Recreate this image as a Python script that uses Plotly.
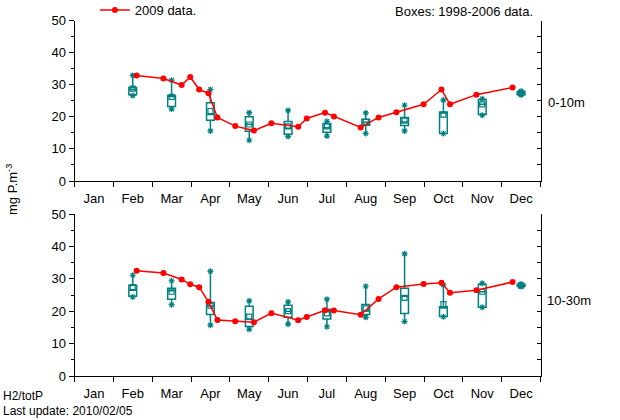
import plotly.graph_objects as go

months = ["Jan", "Feb", "Mar", "Apr", "May", "Jun", "Jul", "Aug", "Sep", "Oct", "Nov", "Dec"]

# 2009 sampling dates (in month units, Jan 1 = 0)
x2009 = [1.60, 2.29, 2.76, 2.98, 3.21, 3.45, 3.68, 4.14, 4.62, 5.07, 5.76, 5.98,
         6.45, 6.68, 7.37, 7.83, 8.29, 8.99, 9.45, 9.67, 10.35, 11.28]
top2009 = [32.9, 31.9, 29.9, 32.4, 28.5, 27.3, 19.8, 17.1, 15.7, 18.0, 16.9, 19.5,
           21.3, 20.1, 16.7, 19.8, 21.4, 23.9, 28.5, 23.9, 26.9, 29.1]
bot2009 = [32.5, 31.8, 29.8, 28.3, 27.4, 22.9, 17.3, 16.9, 16.6, 19.4, 17.2, 18.2,
           20.3, 20.2, 18.9, 23.8, 27.4, 28.4, 28.8, 25.7, 26.5, 29.0]

# 1998-2006 monthly box statistics (Feb..Dec), box centred mid-month
box_x = [1.5, 2.5, 3.5, 4.5, 5.5, 6.5, 7.5, 8.5, 9.5, 10.5, 11.5]

top_lo = [26.6, 22.4, 15.6, 12.7, 13.9, 14.0, 14.8, 15.6, 14.8, 20.5, 26.8]
top_q1 = [26.9, 23.2, 18.9, 15.5, 14.6, 15.2, 17.4, 17.3, 14.8, 20.7, 26.9]
top_med = [28.5, 26.4, 20.7, 17.7, 16.4, 16.6, 18.3, 18.4, 21.2, 23.9, 27.4]
top_q3 = [29.1, 26.6, 24.4, 20.0, 18.5, 17.9, 19.2, 19.8, 21.5, 25.4, 27.9]
top_hi = [32.9, 31.4, 28.5, 21.3, 22.0, 18.6, 21.2, 23.6, 25.2, 25.6, 28.0]
top_mean = [28.8, 26.2, 21.8, 17.6, 17.0, 17.0, 18.4, 18.8, 20.7, 23.9, 27.4]

bot_lo = [24.4, 22.0, 15.7, 14.4, 16.0, 15.2, 18.1, 16.8, 18.3, 21.2, 27.6]
bot_q1 = [24.6, 23.7, 19.0, 15.3, 18.1, 17.6, 19.0, 19.3, 18.4, 21.2, 27.6]
bot_med = [26.5, 26.3, 21.6, 17.5, 20.0, 19.8, 20.1, 24.6, 21.0, 26.0, 28.0]
bot_q3 = [28.0, 27.1, 22.7, 21.5, 21.8, 20.6, 22.1, 27.1, 21.4, 28.3, 28.3]
bot_hi = [31.1, 29.4, 32.3, 23.2, 22.9, 23.7, 27.7, 37.7, 28.1, 28.6, 28.4]
bot_mean = [27.4, 26.0, 21.7, 18.3, 20.0, 19.3, 20.9, 24.1, 22.2, 26.0, 28.0]

yticks = [0, 10, 20, 30, 40, 50]

TEAL = "#008080"
RED = "#ff0000"
FONT = "Liberation Sans, Arial, sans-serif"

fig = go.Figure()

panels = [
    ("x", "y", top2009, top_lo, top_q1, top_med, top_q3, top_hi, top_mean, True),
    ("x2", "y2", bot2009, bot_lo, bot_q1, bot_med, bot_q3, bot_hi, bot_mean, False),
]

for xa, ya, red, lo, q1, med, q3, hi, mn, leg in panels:
    fig.add_trace(go.Box(
        x=box_x, q1=q1, median=med, q3=q3, lowerfence=lo, upperfence=hi,
        width=0.2, whiskerwidth=0, fillcolor="rgba(0,0,0,0)",
        line=dict(color=TEAL, width=1.5), xaxis=xa, yaxis=ya,
        showlegend=False, hoverinfo="skip"))
    fig.add_trace(go.Scatter(
        x=box_x + box_x, y=lo + hi, mode="markers",
        marker=dict(symbol="asterisk-open", size=5, color=TEAL,
                    line=dict(color=TEAL, width=1.2)),
        xaxis=xa, yaxis=ya, showlegend=False, hoverinfo="skip"))
    fig.add_trace(go.Scatter(
        x=box_x, y=mn, mode="markers",
        marker=dict(symbol="square-open", size=5, color=TEAL,
                    line=dict(color=TEAL, width=1.2)),
        xaxis=xa, yaxis=ya, showlegend=False, hoverinfo="skip"))
    fig.add_trace(go.Scatter(
        x=x2009, y=red, mode="lines+markers", name="2009 data.",
        line=dict(color=RED, width=1.5), marker=dict(color=RED, size=6),
        xaxis=xa, yaxis=ya, showlegend=leg))

xdom = [74.5 / 620, 540.5 / 620]
ydom_top = [1 - 181 / 420, 1 - 20.5 / 420]
ydom_bot = [1 - 376 / 420, 1 - 214 / 420]

xcommon = dict(
    domain=xdom, range=[0, 12], tickvals=[i + 0.5 for i in range(12)], ticktext=months,
    ticks="outside", ticklen=5, tickcolor="rgba(0,0,0,0)", automargin=False,
    showline=True, linecolor="black", linewidth=1, showgrid=False, zeroline=False,
    minor=dict(tick0=0, dtick=1, ticks="outside", ticklen=5, tickcolor="black", tickwidth=1),
    tickfont=dict(size=13, color="black", family=FONT), fixedrange=True)

ycommon = dict(
    range=[0, 50], tickvals=yticks, ticks="outside", ticklen=5, tickcolor="black",
    showline=True, linecolor="black", linewidth=1, showgrid=False, zeroline=False,
    automargin=False,
    minor=dict(tick0=0, dtick=5, ticks="outside", ticklen=3, tickcolor="black"),
    tickfont=dict(size=13, color="black", family=FONT), fixedrange=True)

yright = dict(
    range=[0, 50], side="right", dtick=5, ticks="inside", ticklen=4, tickcolor="black",
    showticklabels=False, showline=True, linecolor="black", linewidth=1, automargin=False,
    showgrid=False, zeroline=False, fixedrange=True)

fig.update_layout(
    width=620, height=420,
    margin=dict(l=0, r=0, t=0, b=0, pad=0, autoexpand=False),
    paper_bgcolor="white", plot_bgcolor="white",
    font=dict(family=FONT, size=13, color="black"),
    xaxis=dict(anchor="y", **xcommon),
    xaxis2=dict(anchor="y2", **xcommon),
    yaxis=dict(domain=ydom_top, anchor="x", **ycommon),
    yaxis2=dict(domain=ydom_bot, anchor="x2", **ycommon),
    yaxis3=dict(overlaying="y", anchor="x", **yright),
    yaxis4=dict(overlaying="y2", anchor="x2", **yright),
    showlegend=True,
    legend=dict(x=0.153, y=1.012, xanchor="left", yanchor="top", bgcolor="rgba(0,0,0,0)",
                font=dict(size=13, family=FONT), itemwidth=30),
)

# dummy traces to activate the right-side axes
fig.add_trace(go.Scatter(x=[None], y=[None], xaxis="x", yaxis="y3", showlegend=False))
fig.add_trace(go.Scatter(x=[None], y=[None], xaxis="x2", yaxis="y4", showlegend=False))

annots = [
    dict(text="Boxes: 1998-2006 data.", x=535 / 620, y=1 - 11 / 420, xanchor="right", yanchor="middle"),
    dict(text="0-10m", x=546 / 620, y=1 - 102 / 420, xanchor="left", yanchor="middle"),
    dict(text="10-30m", x=545 / 620, y=1 - 300 / 420, xanchor="left", yanchor="middle"),
    dict(text="mg P.m<sup>-3</sup>", x=12 / 620, y=1 - 190 / 420, xanchor="center", yanchor="middle",
         textangle=-90),
    dict(text="H2/totP", x=1 / 620, y=1 - 396 / 420, xanchor="left", yanchor="middle", font=dict(size=12)),
    dict(text="Last update: 2010/02/05", x=1 / 620, y=1 - 411 / 420, xanchor="left", yanchor="middle",
         font=dict(size=12)),
]
for a in annots:
    a.setdefault("font", dict(size=13))
    fig.add_annotation(xref="paper", yref="paper", showarrow=False, **a)

fig.write_html("out.html", config={"displayModeBar": False},
               post_script="document.body.style.margin='0';document.body.style.padding='0';")
